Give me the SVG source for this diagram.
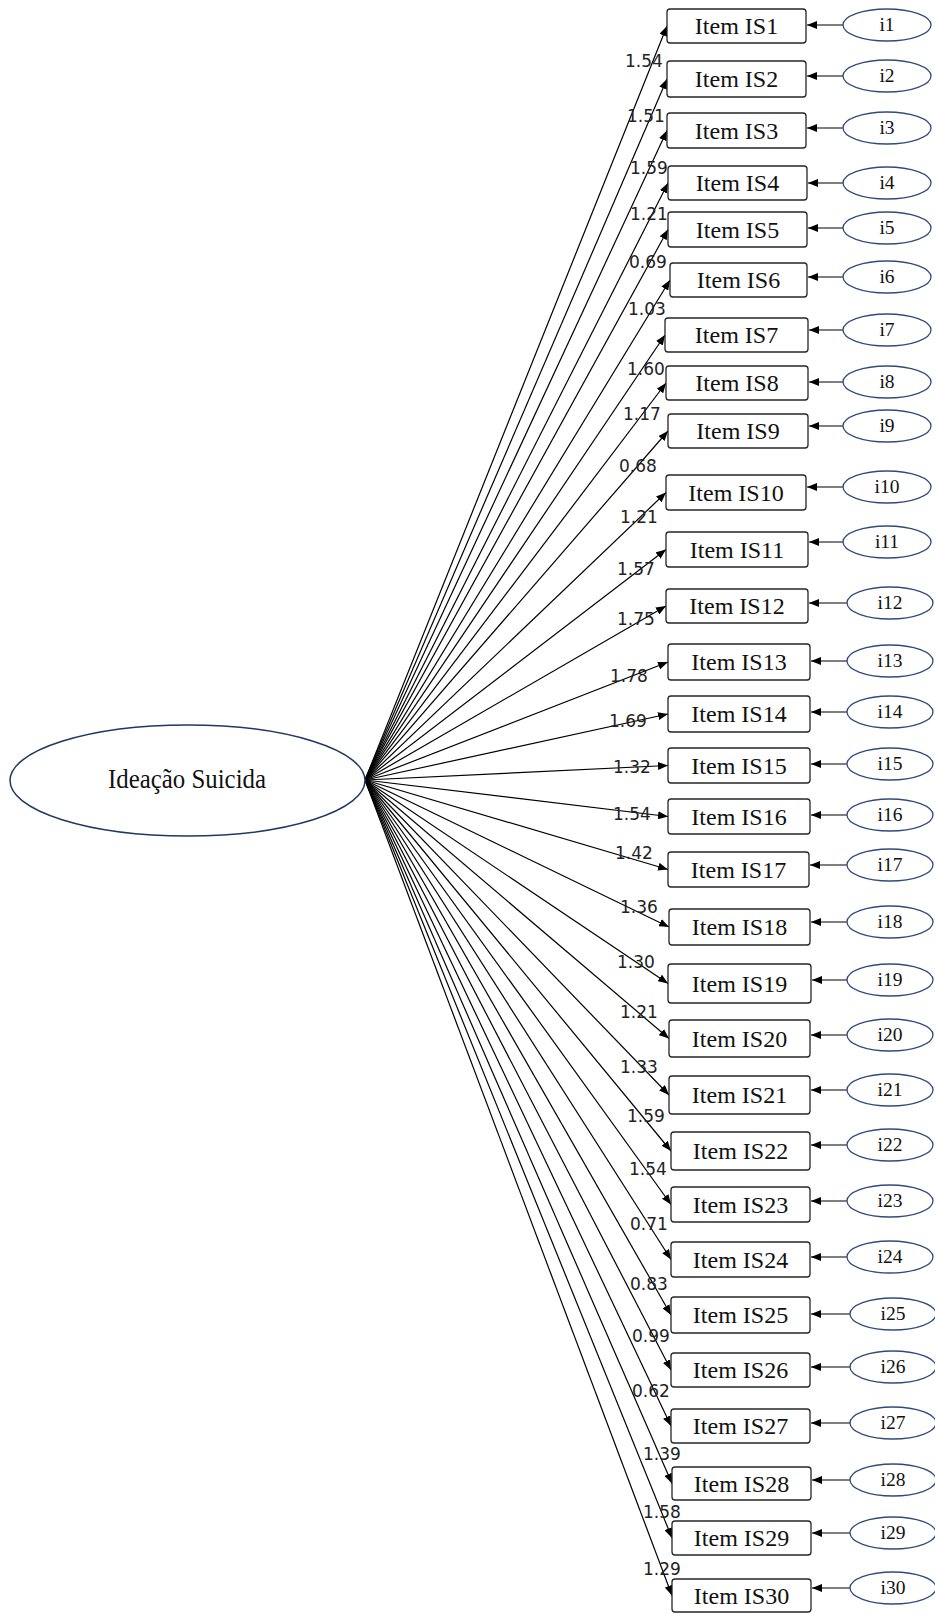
<svg xmlns="http://www.w3.org/2000/svg" width="935" height="1614" viewBox="0 0 935 1614">
<defs>
<marker id="ah" markerUnits="userSpaceOnUse" markerWidth="10" markerHeight="8" viewBox="0 0 10 8" refX="10" refY="4" orient="auto"><path d="M0,0 L10,4 L0,8 z" fill="#000"/></marker>
<style>
.box{fill:#fff;stroke:#262626;stroke-width:1.3}
.err{fill:#fff;stroke:#2F4B7C;stroke-width:1.3}
.lat{fill:#fff;stroke:#1F3864;stroke-width:1.5}
.item{font-family:"Liberation Serif",serif;font-size:24px;fill:#111;text-anchor:middle}
.elab{font-family:"Liberation Serif",serif;font-size:19.5px;fill:#111;text-anchor:middle}
.ltxt{font-family:"Liberation Serif",serif;font-size:27px;fill:#111;text-anchor:middle}
.load{font-family:"DejaVu Sans",sans-serif;font-size:17px;fill:#222}
.conn{stroke:#000;stroke-width:1.2;fill:none;marker-end:url(#ah)}
</style>
</defs>
<rect width="935" height="1614" fill="#fff"/>
<g id="connectors">
<path class="conn" d="M365 780 L667 26"/>
<path class="conn" d="M365 780 L667 79"/>
<path class="conn" d="M365 780 L667 130.5"/>
<path class="conn" d="M365 780 L668 183"/>
<path class="conn" d="M365 780 L668 229.5"/>
<path class="conn" d="M365 780 L670 280"/>
<path class="conn" d="M365 780 L665 335"/>
<path class="conn" d="M365 780 L666 383"/>
<path class="conn" d="M365 780 L668 431"/>
<path class="conn" d="M365 780 L666 492.5"/>
<path class="conn" d="M365 780 L666 549.5"/>
<path class="conn" d="M365 780 L666 606"/>
<path class="conn" d="M365 780 L668 662"/>
<path class="conn" d="M365 780 L668 714"/>
<path class="conn" d="M365 780 L668 765.5"/>
<path class="conn" d="M365 780 L668 816.5"/>
<path class="conn" d="M365 780 L668 869.5"/>
<path class="conn" d="M365 780 L669 927"/>
<path class="conn" d="M365 780 L668 983.5"/>
<path class="conn" d="M365 780 L669 1038.5"/>
<path class="conn" d="M365 780 L669 1095"/>
<path class="conn" d="M365 780 L671 1151"/>
<path class="conn" d="M365 780 L671 1204.5"/>
<path class="conn" d="M365 780 L671 1259.5"/>
<path class="conn" d="M365 780 L671 1315"/>
<path class="conn" d="M365 780 L671 1370"/>
<path class="conn" d="M365 780 L671 1426"/>
<path class="conn" d="M365 780 L672 1483.5"/>
<path class="conn" d="M365 780 L672 1538"/>
<path class="conn" d="M365 780 L672 1595.5"/>
<path class="conn" d="M843 25 L807 25"/>
<path class="conn" d="M843 76 L807 76"/>
<path class="conn" d="M843 128 L807 128"/>
<path class="conn" d="M843 183 L808 183"/>
<path class="conn" d="M843 228 L808 228"/>
<path class="conn" d="M843 277 L808 277"/>
<path class="conn" d="M843 330 L809 330"/>
<path class="conn" d="M843 382 L809 382"/>
<path class="conn" d="M843 426 L809 426"/>
<path class="conn" d="M843 487 L807 487"/>
<path class="conn" d="M843 542 L809 542"/>
<path class="conn" d="M847 603 L809 603"/>
<path class="conn" d="M847 661 L811 661"/>
<path class="conn" d="M847 712 L811 712"/>
<path class="conn" d="M847 764 L811 764"/>
<path class="conn" d="M847 815 L811 815"/>
<path class="conn" d="M847 865 L810 865"/>
<path class="conn" d="M847 922 L811 922"/>
<path class="conn" d="M847 980 L812 980"/>
<path class="conn" d="M847 1035 L811 1035"/>
<path class="conn" d="M847 1090 L811 1090"/>
<path class="conn" d="M847 1145 L811 1145"/>
<path class="conn" d="M847 1201 L811 1201"/>
<path class="conn" d="M847 1257 L811 1257"/>
<path class="conn" d="M850 1314 L811 1314"/>
<path class="conn" d="M850 1367 L811 1367"/>
<path class="conn" d="M850 1423 L811 1423"/>
<path class="conn" d="M850 1480 L812 1480"/>
<path class="conn" d="M850 1533 L812 1533"/>
<path class="conn" d="M850 1588 L812 1588"/>
<text class="load" x="625" y="67">1.54</text>
<text class="load" x="627" y="122">1.51</text>
<text class="load" x="630" y="174">1.59</text>
<text class="load" x="630" y="220">1.21</text>
<text class="load" x="629" y="268">0.69</text>
<text class="load" x="628" y="315">1.03</text>
<text class="load" x="627" y="375">1.60</text>
<text class="load" x="623" y="420">1.17</text>
<text class="load" x="619" y="472">0.68</text>
<text class="load" x="620" y="523">1.21</text>
<text class="load" x="617" y="575">1.57</text>
<text class="load" x="617" y="625">1.75</text>
<text class="load" x="610" y="682">1.78</text>
<text class="load" x="609" y="727">1.69</text>
<text class="load" x="613" y="773">1.32</text>
<text class="load" x="613" y="820">1.54</text>
<text class="load" x="615" y="859">1.42</text>
<text class="load" x="620" y="913">1.36</text>
<text class="load" x="617" y="968">1.30</text>
<text class="load" x="620" y="1018">1.21</text>
<text class="load" x="620" y="1073">1.33</text>
<text class="load" x="627" y="1122">1.59</text>
<text class="load" x="629" y="1175">1.54</text>
<text class="load" x="630" y="1230">0.71</text>
<text class="load" x="630" y="1290">0.83</text>
<text class="load" x="632" y="1342">0.99</text>
<text class="load" x="632" y="1397">0.62</text>
<text class="load" x="643" y="1460">1.39</text>
<text class="load" x="643" y="1518">1.58</text>
<text class="load" x="643" y="1575">1.29</text>
</g>
<g id="node-latent"><ellipse class="lat" cx="187.5" cy="780.5" rx="177.5" ry="55.5"/><text class="ltxt" x="187" y="788" textLength="158" lengthAdjust="spacingAndGlyphs">Ideação Suicida</text></g>
<g id="node-is1"><rect class="box" x="667" y="9" width="139" height="34" rx="3"/><text class="item" x="736.5" y="34">Item IS1</text></g>
<g id="node-is2"><rect class="box" x="667" y="61" width="139" height="36" rx="3"/><text class="item" x="736.5" y="87">Item IS2</text></g>
<g id="node-is3"><rect class="box" x="667" y="113" width="139" height="35" rx="3"/><text class="item" x="736.5" y="138.5">Item IS3</text></g>
<g id="node-is4"><rect class="box" x="668" y="166" width="139" height="34" rx="3"/><text class="item" x="737.5" y="191">Item IS4</text></g>
<g id="node-is5"><rect class="box" x="668" y="212" width="139" height="35" rx="3"/><text class="item" x="737.5" y="237.5">Item IS5</text></g>
<g id="node-is6"><rect class="box" x="670" y="263" width="137" height="34" rx="3"/><text class="item" x="738.5" y="288">Item IS6</text></g>
<g id="node-is7"><rect class="box" x="665" y="318" width="143" height="34" rx="3"/><text class="item" x="736.5" y="343">Item IS7</text></g>
<g id="node-is8"><rect class="box" x="666" y="366" width="142" height="34" rx="3"/><text class="item" x="737" y="391">Item IS8</text></g>
<g id="node-is9"><rect class="box" x="668" y="414" width="140" height="34" rx="3"/><text class="item" x="738" y="439">Item IS9</text></g>
<g id="node-is10"><rect class="box" x="666" y="475" width="140" height="35" rx="3"/><text class="item" x="736" y="500.5">Item IS10</text></g>
<g id="node-is11"><rect class="box" x="666" y="532" width="142" height="35" rx="3"/><text class="item" x="737" y="557.5">Item IS11</text></g>
<g id="node-is12"><rect class="box" x="666" y="589" width="142" height="34" rx="3"/><text class="item" x="737" y="614">Item IS12</text></g>
<g id="node-is13"><rect class="box" x="668" y="644" width="142" height="36" rx="3"/><text class="item" x="739" y="670">Item IS13</text></g>
<g id="node-is14"><rect class="box" x="668" y="696" width="142" height="36" rx="3"/><text class="item" x="739" y="722">Item IS14</text></g>
<g id="node-is15"><rect class="box" x="668" y="748" width="142" height="35" rx="3"/><text class="item" x="739" y="773.5">Item IS15</text></g>
<g id="node-is16"><rect class="box" x="668" y="799" width="142" height="35" rx="3"/><text class="item" x="739" y="824.5">Item IS16</text></g>
<g id="node-is17"><rect class="box" x="668" y="852" width="141" height="35" rx="3"/><text class="item" x="738.5" y="877.5">Item IS17</text></g>
<g id="node-is18"><rect class="box" x="669" y="909" width="141" height="36" rx="3"/><text class="item" x="739.5" y="935">Item IS18</text></g>
<g id="node-is19"><rect class="box" x="668" y="964" width="143" height="39" rx="3"/><text class="item" x="739.5" y="991.5">Item IS19</text></g>
<g id="node-is20"><rect class="box" x="669" y="1020" width="141" height="37" rx="3"/><text class="item" x="739.5" y="1046.5">Item IS20</text></g>
<g id="node-is21"><rect class="box" x="669" y="1076" width="141" height="38" rx="3"/><text class="item" x="739.5" y="1103">Item IS21</text></g>
<g id="node-is22"><rect class="box" x="671" y="1132" width="139" height="38" rx="3"/><text class="item" x="740.5" y="1159">Item IS22</text></g>
<g id="node-is23"><rect class="box" x="671" y="1187" width="139" height="35" rx="3"/><text class="item" x="740.5" y="1212.5">Item IS23</text></g>
<g id="node-is24"><rect class="box" x="671" y="1242" width="139" height="35" rx="3"/><text class="item" x="740.5" y="1267.5">Item IS24</text></g>
<g id="node-is25"><rect class="box" x="671" y="1297" width="139" height="36" rx="3"/><text class="item" x="740.5" y="1323">Item IS25</text></g>
<g id="node-is26"><rect class="box" x="671" y="1353" width="139" height="34" rx="3"/><text class="item" x="740.5" y="1378">Item IS26</text></g>
<g id="node-is27"><rect class="box" x="671" y="1409" width="139" height="34" rx="3"/><text class="item" x="740.5" y="1434">Item IS27</text></g>
<g id="node-is28"><rect class="box" x="672" y="1467" width="139" height="33" rx="3"/><text class="item" x="741.5" y="1491.5">Item IS28</text></g>
<g id="node-is29"><rect class="box" x="672" y="1521" width="139" height="34" rx="3"/><text class="item" x="741.5" y="1546">Item IS29</text></g>
<g id="node-is30"><rect class="box" x="672" y="1579" width="139" height="33" rx="3"/><text class="item" x="741.5" y="1603.5">Item IS30</text></g>
<g id="node-i1"><ellipse class="err" cx="887" cy="25" rx="44" ry="16"/><text class="elab" x="887" y="31">i1</text></g>
<g id="node-i2"><ellipse class="err" cx="887" cy="76" rx="44" ry="16"/><text class="elab" x="887" y="82">i2</text></g>
<g id="node-i3"><ellipse class="err" cx="887" cy="128" rx="44" ry="16"/><text class="elab" x="887" y="134">i3</text></g>
<g id="node-i4"><ellipse class="err" cx="887" cy="183" rx="44" ry="16"/><text class="elab" x="887" y="189">i4</text></g>
<g id="node-i5"><ellipse class="err" cx="887" cy="228" rx="44" ry="16"/><text class="elab" x="887" y="234">i5</text></g>
<g id="node-i6"><ellipse class="err" cx="887" cy="277" rx="44" ry="16"/><text class="elab" x="887" y="283">i6</text></g>
<g id="node-i7"><ellipse class="err" cx="887" cy="330" rx="44" ry="16"/><text class="elab" x="887" y="336">i7</text></g>
<g id="node-i8"><ellipse class="err" cx="887" cy="382" rx="44" ry="16"/><text class="elab" x="887" y="388">i8</text></g>
<g id="node-i9"><ellipse class="err" cx="887" cy="426" rx="44" ry="16"/><text class="elab" x="887" y="432">i9</text></g>
<g id="node-i10"><ellipse class="err" cx="887" cy="487" rx="44" ry="16"/><text class="elab" x="887" y="493">i10</text></g>
<g id="node-i11"><ellipse class="err" cx="887" cy="542" rx="44" ry="16"/><text class="elab" x="887" y="548">i11</text></g>
<g id="node-i12"><ellipse class="err" cx="890" cy="603" rx="43" ry="16"/><text class="elab" x="890" y="609">i12</text></g>
<g id="node-i13"><ellipse class="err" cx="890" cy="661" rx="43" ry="16"/><text class="elab" x="890" y="667">i13</text></g>
<g id="node-i14"><ellipse class="err" cx="890" cy="712" rx="43" ry="16"/><text class="elab" x="890" y="718">i14</text></g>
<g id="node-i15"><ellipse class="err" cx="890" cy="764" rx="43" ry="16"/><text class="elab" x="890" y="770">i15</text></g>
<g id="node-i16"><ellipse class="err" cx="890" cy="815" rx="43" ry="16"/><text class="elab" x="890" y="821">i16</text></g>
<g id="node-i17"><ellipse class="err" cx="890" cy="865" rx="43" ry="16"/><text class="elab" x="890" y="871">i17</text></g>
<g id="node-i18"><ellipse class="err" cx="890" cy="922" rx="43" ry="16"/><text class="elab" x="890" y="928">i18</text></g>
<g id="node-i19"><ellipse class="err" cx="890" cy="980" rx="43" ry="16"/><text class="elab" x="890" y="986">i19</text></g>
<g id="node-i20"><ellipse class="err" cx="890" cy="1035" rx="43" ry="16"/><text class="elab" x="890" y="1041">i20</text></g>
<g id="node-i21"><ellipse class="err" cx="890" cy="1090" rx="43" ry="16"/><text class="elab" x="890" y="1096">i21</text></g>
<g id="node-i22"><ellipse class="err" cx="890" cy="1145" rx="43" ry="16"/><text class="elab" x="890" y="1151">i22</text></g>
<g id="node-i23"><ellipse class="err" cx="890" cy="1201" rx="43" ry="16"/><text class="elab" x="890" y="1207">i23</text></g>
<g id="node-i24"><ellipse class="err" cx="890" cy="1257" rx="43" ry="16"/><text class="elab" x="890" y="1263">i24</text></g>
<g id="node-i25"><ellipse class="err" cx="893" cy="1314" rx="43" ry="16"/><text class="elab" x="893" y="1320">i25</text></g>
<g id="node-i26"><ellipse class="err" cx="893" cy="1367" rx="43" ry="16"/><text class="elab" x="893" y="1373">i26</text></g>
<g id="node-i27"><ellipse class="err" cx="893" cy="1423" rx="43" ry="16"/><text class="elab" x="893" y="1429">i27</text></g>
<g id="node-i28"><ellipse class="err" cx="893" cy="1480" rx="43" ry="16"/><text class="elab" x="893" y="1486">i28</text></g>
<g id="node-i29"><ellipse class="err" cx="893" cy="1533" rx="43" ry="16"/><text class="elab" x="893" y="1539">i29</text></g>
<g id="node-i30"><ellipse class="err" cx="893" cy="1588" rx="43" ry="16"/><text class="elab" x="893" y="1594">i30</text></g>
</svg>
